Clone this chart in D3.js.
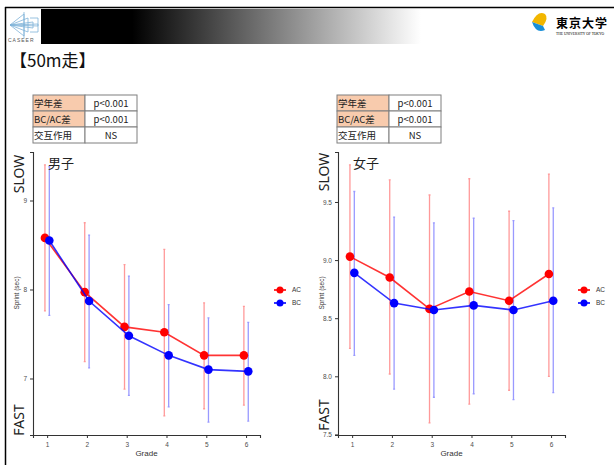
<!DOCTYPE html>
<html>
<head>
<meta charset="utf-8">
<script src="https://cdn.jsdelivr.net/npm/d3@7"></script>
<style>
  body { margin: 0; background: #fff; }
  svg { display: block; }
</style>
</head>
<body>
<svg id="slide" width="614" height="465"></svg>
<script>
const grades = [1, 2, 3, 4, 5, 6];
const groups = ["AC", "BC"];

// 男子 (boys)
const boysAC = [8.58, 7.97, 7.58, 7.52, 7.26, 7.26];
const boysACLow = [7.76, 7.19, 6.88, 6.58, 6.66, 6.70];
const boysACHigh = [9.40, 8.75, 8.28, 8.45, 7.85, 7.81];
const boysBC = [8.55, 7.87, 7.48, 7.26, 7.10, 7.08];
const boysBCLow = [7.71, 7.12, 6.81, 6.68, 6.51, 6.52];
const boysBCHigh = [9.38, 8.61, 8.15, 7.83, 7.68, 7.63];
const boysTicks = [7, 8, 9];

// 女子 (girls)
const girlsAC = [9.03, 8.85, 8.58, 8.73, 8.65, 8.88];
const girlsACLow = [8.24, 8.02, 7.60, 7.76, 7.88, 8.00];
const girlsACHigh = [9.82, 9.69, 9.56, 9.70, 9.42, 9.74];
const girlsBC = [8.89, 8.63, 8.57, 8.61, 8.57, 8.65];
const girlsBCLow = [8.18, 7.89, 7.82, 7.85, 7.80, 7.86];
const girlsBCHigh = [9.59, 9.37, 9.32, 9.36, 9.34, 9.45];
const girlsTicks = [7.5, 8.0, 8.5, 9.0, 9.5];

const statRows = ["学年差", "BC/AC差", "交互作用"];
const statValues = ["p<0.001", "p<0.001", "NS"];

const colors = {AC: "#ff0000", BC: "#0000ff"};
const barColors = {AC: "rgba(255,0,0,0.4)", BC: "rgba(0,0,255,0.4)"};
const dodge = {AC: -0.055, BC: 0.055};

const svg = d3.select("#slide");
const jp = "'Noto Sans CJK JP', 'Noto Sans', sans-serif";
const sans = "'Liberation Sans', Arial, sans-serif";

// slide frame + header
const defs = svg.append("defs");
const grad = defs.append("linearGradient").attr("id", "banner");
grad.append("stop").attr("offset", "0%").attr("stop-color", "#000");
grad.append("stop").attr("offset", "24%").attr("stop-color", "#000");
grad.append("stop").attr("offset", "100%").attr("stop-color", "#fff");

svg.append("rect").attr("x", 41).attr("y", 9).attr("width", 380).attr("height", 35)
  .attr("fill", "url(#banner)");
svg.append("line").attr("x1", 5).attr("x2", 614).attr("y1", 7.5).attr("y2", 7.5)
  .attr("stroke", "#000").attr("stroke-width", 1.5);
svg.append("line").attr("x1", 5.5).attr("x2", 5.5).attr("y1", 7).attr("y2", 465)
  .attr("stroke", "#000").attr("stroke-width", 1.5);

// CASEER logo (rough)
const logo = svg.append("g").attr("stroke", "#7fb2d8").attr("fill", "none").attr("stroke-width", 0.8);
[[24, 14], [28, 18], [33, 22], [38, 26]].forEach(([x, y]) => {
  logo.append("path").attr("d", `M10,25 L${x},${y} L${x},${50 - y} Z`);
});
logo.append("path").attr("d", "M24,12 L24,38 M30,18 L38,18 L38,32 L30,32");
svg.append("text").attr("x", 8).attr("y", 42).attr("font-family", sans)
  .attr("font-size", 5).attr("letter-spacing", 1).attr("fill", "#555").text("CASEER");

// Tokyo logo (rough)
const tk = svg.append("g");
tk.append("path").attr("d", "M532,22 Q538,10 545,14 Q549,18 543,26 Z").attr("fill", "#f2b600");
tk.append("path").attr("d", "M532,22 Q536,34 545,30 L543,26 Z").attr("fill", "#1a8fd8");
tk.append("text").attr("x", 556).attr("y", 28).attr("font-family", jp).attr("font-size", 12)
  .attr("font-weight", "bold").attr("letter-spacing", 1).text("東京大学");
tk.append("text").attr("x", 556).attr("y", 35).attr("font-family", "'Liberation Serif', serif")
  .attr("font-size", 3.6).text("THE UNIVERSITY OF TOKYO");

svg.append("text").attr("x", 10).attr("y", 67).attr("font-family", jp)
  .attr("font-size", 17).attr("fill", "#111").text("【50m走】");

function statTable(x0, y0) {
  const g = svg.append("g").attr("transform", `translate(${x0},${y0})`);
  const cw = [52, 52], rh = 16;
  statRows.forEach((r, i) => {
    g.append("rect").attr("x", 0).attr("y", i * rh).attr("width", cw[0]).attr("height", rh)
      .attr("fill", i < 2 ? "#f8cbad" : "#fff").attr("stroke", "#7f7f7f");
    g.append("rect").attr("x", cw[0]).attr("y", i * rh).attr("width", cw[1]).attr("height", rh)
      .attr("fill", "#fff").attr("stroke", "#7f7f7f");
    g.append("text").attr("x", 1).attr("y", i * rh + 11.5).attr("font-family", jp)
      .attr("font-size", 9.5).attr("fill", "#222").text(r);
    g.append("text").attr("x", cw[0] + cw[1] / 2).attr("y", i * rh + 11.5).attr("text-anchor", "middle")
      .attr("font-family", jp).attr("font-size", 9.5).attr("fill", "#222").text(statValues[i]);
  });
}
statTable(33, 95);
statTable(337, 95);

function panel(cfg) {
  const x = d3.scaleLinear().domain([0.645, 6.35]).range([cfg.left, cfg.right]);
  const y = d3.scaleLinear().domain(cfg.yDomain).range([435, 152]);
  const g = svg.append("g");

  g.append("g").attr("transform", "translate(0,435)")
    .call(d3.axisBottom(x).tickValues(grades).tickSize(3).tickFormat(d3.format("d")))
    .call(a => {
      a.select(".domain").attr("stroke", "#333").attr("stroke-width", 1.1);
      a.selectAll(".tick line").attr("stroke", "#333");
      a.selectAll("text").attr("fill", "#4d4d4d").attr("font-size", 6.5).attr("font-family", sans).attr("dy", "0.9em");
    });
  g.append("g").attr("transform", `translate(${cfg.left},0)`)
    .call(d3.axisLeft(y).tickValues(cfg.ticks).tickSize(3).tickFormat(cfg.fmt))
    .call(a => {
      a.select(".domain").attr("stroke", "#333").attr("stroke-width", 1.1);
      a.selectAll(".tick line").attr("stroke", "#333");
      a.selectAll("text").attr("fill", "#4d4d4d").attr("font-size", 6.5).attr("font-family", sans);
    });

  const series = {
    AC: grades.map((gr, i) => ({g: gr, m: cfg.AC[i], lo: cfg.ACLow[i], hi: cfg.ACHigh[i]})),
    BC: grades.map((gr, i) => ({g: gr, m: cfg.BC[i], lo: cfg.BCLow[i], hi: cfg.BCHigh[i]}))
  };

  groups.forEach(k => {
    const d = series[k];
    const xs = v => x(v.g + dodge[k]);
    g.append("g").selectAll("path").data(d).join("path")
      .attr("d", v => `M${xs(v) - 1},${y(v.hi)}H${xs(v) + 1}M${xs(v)},${y(v.hi)}V${y(v.lo)}M${xs(v) - 1},${y(v.lo)}H${xs(v) + 1}`)
      .attr("stroke", barColors[k]).attr("stroke-width", 1.3).attr("fill", "none");
  });
  groups.forEach(k => {
    const d = series[k];
    g.append("path").datum(d)
      .attr("d", d3.line().x(v => x(v.g + dodge[k])).y(v => y(v.m)))
      .attr("stroke", colors[k]).attr("stroke-opacity", 0.8).attr("stroke-width", 1.6).attr("fill", "none");
    g.append("g").selectAll("circle").data(d).join("circle")
      .attr("cx", v => x(v.g + dodge[k])).attr("cy", v => y(v.m)).attr("r", 4.3)
      .attr("fill", colors[k]);
  });

  // legend
  groups.forEach((k, i) => {
    const ly = 290 + i * 13;
    g.append("line").attr("x1", cfg.legendX - 6).attr("x2", cfg.legendX + 6).attr("y1", ly).attr("y2", ly)
      .attr("stroke", colors[k]).attr("stroke-width", 1.6);
    g.append("circle").attr("cx", cfg.legendX).attr("cy", ly).attr("r", 3.5).attr("fill", colors[k]);
    g.append("text").attr("x", cfg.legendX + 12).attr("y", ly + 2.3).attr("font-family", sans)
      .attr("font-size", 6.5).attr("fill", "#333").text(k);
  });

  g.append("text").attr("x", (cfg.left + cfg.right) / 2).attr("y", 456).attr("text-anchor", "middle")
    .attr("font-family", sans).attr("font-size", 8).attr("fill", "#333").text("Grade");
  g.append("text").attr("transform", `translate(${cfg.left - 14},293) rotate(-90)`).attr("text-anchor", "middle")
    .attr("font-family", sans).attr("font-size", 6.5).attr("fill", "#333").text("Sprint (sec)");
  g.append("text").attr("transform", `translate(${cfg.left - 9},${cfg.slowY}) rotate(-90)`).attr("text-anchor", "middle")
    .attr("font-family", "'Noto Sans', sans-serif").attr("font-size", 14).attr("fill", "#222").text("SLOW");
  g.append("text").attr("transform", `translate(${cfg.left - 9},${cfg.fastY}) rotate(-90)`).attr("text-anchor", "middle")
    .attr("font-family", "'Noto Sans', sans-serif").attr("font-size", 14).attr("fill", "#222").text("FAST");
  g.append("text").attr("x", cfg.left + 15).attr("y", 168).attr("font-family", jp)
    .attr("font-size", 13).attr("fill", "#222").text(cfg.title);
}

panel({
  left: 33, right: 260, yDomain: [6.365, 9.545], ticks: boysTicks, fmt: d3.format("d"),
  AC: boysAC, ACLow: boysACLow, ACHigh: boysACHigh, BC: boysBC, BCLow: boysBCLow, BCHigh: boysBCHigh,
  legendX: 280, slowY: 174, fastY: 420, title: "男子"
});
panel({
  left: 338, right: 565, yDomain: [7.495, 9.93], ticks: girlsTicks, fmt: d3.format(".1f"),
  AC: girlsAC, ACLow: girlsACLow, ACHigh: girlsACHigh, BC: girlsBC, BCLow: girlsBCLow, BCHigh: girlsBCHigh,
  legendX: 584, slowY: 172, fastY: 415, title: "女子"
});
</script>
</body>
</html>
